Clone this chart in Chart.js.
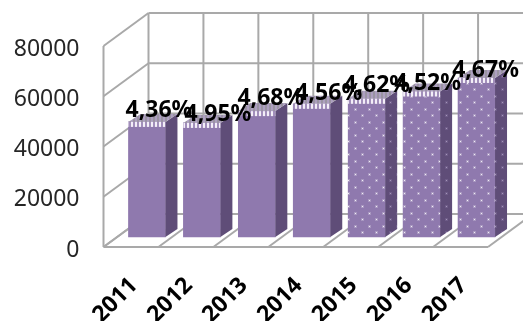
<!DOCTYPE html>
<html>
<head>
<meta charset="utf-8">
<script src="https://cdn.jsdelivr.net/npm/chart.js@4"></script>
<style>
  html, body { margin: 0; padding: 0; background: #fff; }
  canvas { display: block; }
</style>
</head>
<body>
<canvas id="chart" width="523" height="321"></canvas>
<script>
const years = ['2011', '2012', '2013', '2014', '2015', '2016', '2017'];
const values = [45800, 45400, 50100, 53000, 55000, 57900, 63300];
const rates = ['4,36%', '4,95%', '4,68%', '4,56%', '4,62%', '4,52%', '4,67%'];
const yTicks = [0, 20000, 40000, 60000, 80000];

const FRONT = '#8f79ae';
const SIDE = '#5f4d78';
const GRID = '#a9a9a9';
const FONT = '"Noto Sans", sans-serif';

// 3d box depth
const WALL_DX = 45, WALL_DY = -33;
const BAR_DX = 16, BAR_DY = -10;
const SIDE_DX = 12, SIDE_DY = -8;

// hand nudges for the value labels, they don't sit evenly in the original
const labelDX = [12, 16, 14, 17, 10, 6, 9];
const labelDY = [-5, -2, -6, -4, -7, -2, -1];

function dotPattern(base, soft, dot) {
  const c = document.createElement('canvas');
  c.width = 14; c.height = 13;
  const g = c.getContext('2d');
  g.fillStyle = base;
  g.fillRect(0, 0, 14, 13);
  [[3, 2], [10, 8]].forEach(p => {
    g.fillStyle = soft;
    g.fillRect(p[0] - 1, p[1] - 1, 3, 3);
    g.fillStyle = dot;
    g.fillRect(p[0], p[1], 1, 1);
  });
  return g.createPattern(c, 'repeat');
}

function stripePattern(a, b) {
  const c = document.createElement('canvas');
  c.width = 4; c.height = 4;
  const g = c.getContext('2d');
  g.fillStyle = a;
  g.fillRect(0, 0, 4, 4);
  g.fillStyle = b;
  g.fillRect(1, 0, 2, 4);
  return g.createPattern(c, 'repeat');
}

const frontDots = dotPattern(FRONT, '#a897c0', '#f2edf7');
const sideDots = dotPattern(SIDE, '#6e5c88', '#a596b8');
const topStripes = stripePattern('#ad9fc0', '#9a94a3');
const bandStripes = stripePattern('#f3eef8', '#a28fbb');

function line(ctx, x1, y1, x2, y2) {
  ctx.beginPath();
  ctx.moveTo(x1, y1);
  ctx.lineTo(x2, y2);
  ctx.stroke();
}

const box3d = {
  id: 'box3d',
  beforeDatasetsDraw(chart) {
    const ctx = chart.ctx;
    const y = chart.scales.y;
    const left = chart.chartArea.left, right = chart.chartArea.right;
    const step = (right - left) / years.length;
    ctx.save();
    ctx.strokeStyle = GRID;
    ctx.lineWidth = 2;
    // side wall and back wall
    line(ctx, left, y.getPixelForValue(80000), left, y.getPixelForValue(0));
    yTicks.forEach(t => {
      const py = y.getPixelForValue(t);
      line(ctx, left, py, left + WALL_DX, py + WALL_DY);
      line(ctx, left + WALL_DX, py + WALL_DY, right + WALL_DX, py + WALL_DY);
    });
    // back verticals and floor
    for (let i = 0; i <= years.length; i++) {
      const fx = left + step * i;
      line(ctx, fx + WALL_DX, y.getPixelForValue(80000) + WALL_DY, fx + WALL_DX, y.getPixelForValue(0) + WALL_DY);
      line(ctx, fx, y.getPixelForValue(0), fx + WALL_DX, y.getPixelForValue(0) + WALL_DY);
    }
    line(ctx, left, y.getPixelForValue(0), right, y.getPixelForValue(0));
    ctx.restore();
    // bars stand in the middle of the floor
    ctx.save();
    ctx.translate(BAR_DX, BAR_DY);
  },
  afterDatasetsDraw(chart) {
    const ctx = chart.ctx;
    const bars = chart.getDatasetMeta(0).data;
    bars.forEach((b, i) => {
      const l = b.x - b.width / 2, r = b.x + b.width / 2;
      // side
      ctx.fillStyle = i >= 4 ? sideDots : SIDE;
      ctx.beginPath();
      ctx.moveTo(r, b.y);
      ctx.lineTo(r + SIDE_DX, b.y + SIDE_DY);
      ctx.lineTo(r + SIDE_DX, b.base + SIDE_DY);
      ctx.lineTo(r, b.base);
      ctx.closePath();
      ctx.fill();
      // top
      ctx.fillStyle = topStripes;
      ctx.beginPath();
      ctx.moveTo(l, b.y);
      ctx.lineTo(l + SIDE_DX, b.y + SIDE_DY);
      ctx.lineTo(r + SIDE_DX, b.y + SIDE_DY);
      ctx.lineTo(r, b.y);
      ctx.closePath();
      ctx.fill();
      // light band under the top edge
      ctx.fillStyle = bandStripes;
      ctx.fillRect(l, b.y, b.width, 5);
    });
    ctx.restore();

    // value labels
    ctx.save();
    ctx.font = 'bold 23px ' + FONT;
    ctx.fillStyle = '#000';
    ctx.textAlign = 'center';
    ctx.textBaseline = 'alphabetic';
    bars.forEach((b, i) => {
      ctx.fillText(rates[i], b.x + BAR_DX + labelDX[i], b.y + BAR_DY + labelDY[i]);
    });
    ctx.restore();
  }
};

new Chart(document.getElementById('chart'), {
  type: 'bar',
  data: {
    labels: years,
    datasets: [{
      data: values,
      backgroundColor: values.map((v, i) => i >= 4 ? frontDots : FRONT),
      barThickness: 37,
      clip: false
    }]
  },
  options: {
    responsive: false,
    animation: false,
    layout: { padding: { top: 46, right: 35, left: 0, bottom: 0 } },
    plugins: { legend: { display: false }, tooltip: { enabled: false } },
    scales: {
      x: {
        grid: { display: false, drawTicks: false },
        border: { display: false },
        afterFit(scale) { scale.height = 74; },
        ticks: {
          autoSkip: false,
          minRotation: 45,
          maxRotation: 45,
          padding: 25,
          labelOffset: 3,
          color: '#000',
          font: { family: FONT, size: 23, weight: 'bold' }
        }
      },
      y: {
        min: 0,
        max: 80000,
        grid: { display: false, drawTicks: false },
        border: { display: false },
        afterFit(scale) { scale.width = 103.5; },
        afterBuildTicks(scale) { scale.ticks = yTicks.map(v => ({ value: v })); },
        ticks: {
          padding: 24,
          labelOffset: 3,
          color: '#262626',
          font: { family: FONT, size: 23 },
          callback: v => String(v)
        }
      }
    }
  },
  plugins: [box3d]
});
</script>
</body>
</html>
